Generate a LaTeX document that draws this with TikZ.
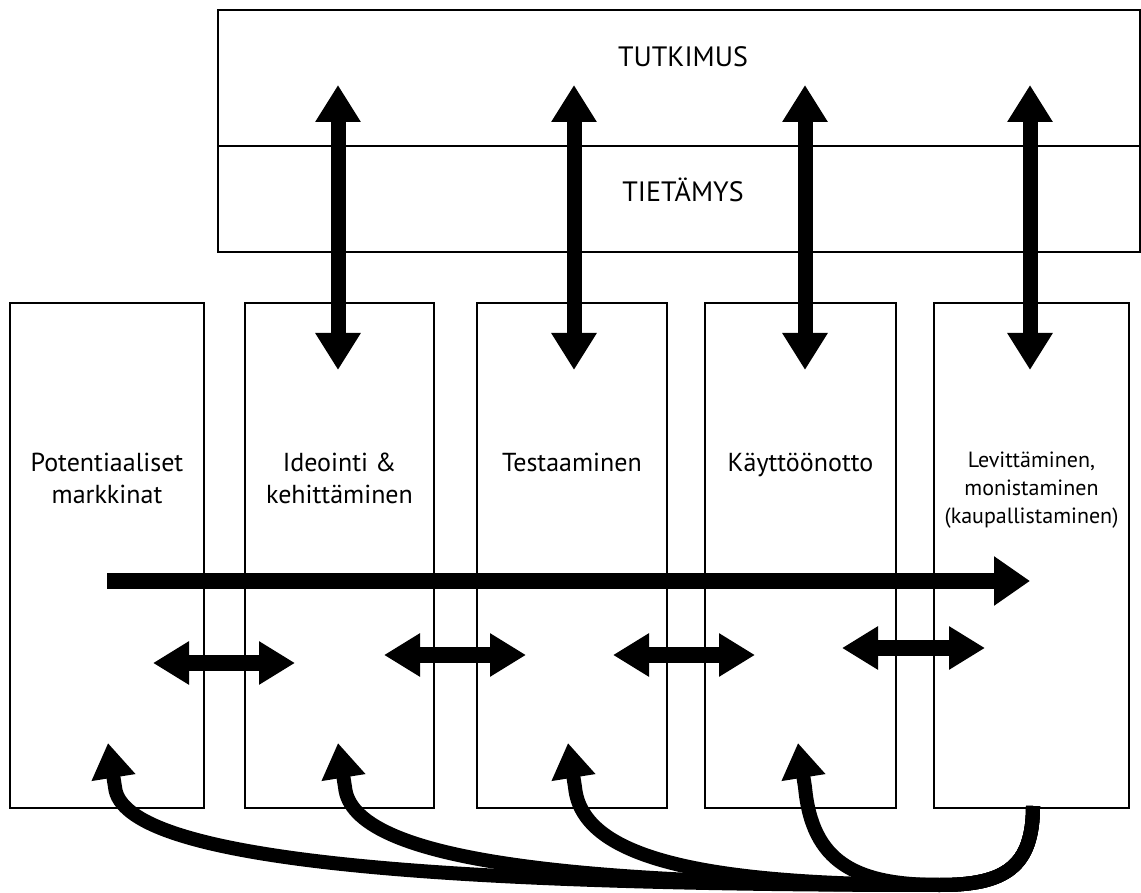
\documentclass[tikz,border=0pt]{standalone}
\usepackage{fontspec}
\setmainfont{PT Sans}
\usetikzlibrary{arrows.meta}

\begin{document}
\begin{tikzpicture}[x=1pt,y=1pt,
  panel/.style={draw, line width=2.6pt, minimum width=922pt, inner sep=0pt},
  stage/.style={draw, line width=2pt, minimum height=505pt, inner sep=0pt},
  stagetext/.style={anchor=north, align=center, inner sep=0pt, font=\fontsize{26}{32}\selectfont},
  bigtext/.style={inner sep=0pt, font=\fontsize{28}{32}\selectfont},
  twoway/.style={line width=15pt, {Triangle[length=37pt,width=43pt]}-{Triangle[length=37pt,width=43pt]}},
  oneway/.style={line width=16pt, -{Triangle[length=36pt,width=47pt]}},
  backflow/.style={line width=14pt, -{Triangle[length=35pt,width=42pt]}}]
\useasboundingbox (0,0) rectangle (1141,892);
% research and knowledge
\node[panel, minimum height=136pt] (tutk) at (679,814) {};
\node[panel, minimum height=106pt] (tiet) at (679,693) {};
\node[bigtext] (tutklabel) at (683,835) {TUTKIMUS};
\node[bigtext] (tietlabel) at (683,702) {TIETÄMYS};
% stages
\node[stage, minimum width=194pt] (mark) at (107,336.5) {};
\node[stage, minimum width=189pt] (ideo) at (339.5,336.5) {};
\node[stage, minimum width=190pt] (test) at (572,336.5) {};
\node[stage, minimum width=191pt] (kayt) at (800.5,336.5) {};
\node[stage, minimum width=195pt] (levi) at (1031.5,336.5) {};
\node[stagetext] (marklabel) at (mark.center |- 0,439) {Potentiaaliset\\markkinat};
\node[stagetext] (ideolabel) at (ideo.center |- 0,439) {Ideointi \&\\kehittäminen};
\node[stagetext] (testlabel) at (test.center |- 0,439) {Testaaminen};
\node[stagetext] (kaytlabel) at (kayt.center |- 0,439) {Käyttöönotto};
\node[stagetext, font=\fontsize{22}{28}\selectfont] (levilabel) at (levi.center |- 0,440) {Levittäminen,\\monistaminen\\(kaupallistaminen)};
% links to research
\foreach \i/\x in {1/338,2/574,3/805,4/1030}{
  \coordinate (up\i) at (\x,807);
  \coordinate (down\i) at (\x,522);
  \draw[twoway] (up\i) -- (down\i);
}
% main flow
\coordinate (flowstart) at (107,311);
\coordinate (flowend) at (1030,311);
\draw[oneway] (flowstart) -- (flowend);
% between stages
\foreach \i/\xa/\xb/\y in {1/153/295/229,2/384/526/237,3/613/755/237,4/842/985/244}{
  \coordinate (sl\i) at (\xa,\y);
  \coordinate (sr\i) at (\xb,\y);
  \draw[twoway, line width=16pt, {Triangle[length=36pt,width=41pt]}-{Triangle[length=36pt,width=41pt]}] (sl\i) -- (sr\i);
}
% feedback
\coordinate (ret) at (1033,86);
\foreach \i/\x in {1/108,2/338,3/568,4/798}{
  \coordinate (back\i) at (\x,149);
  \draw[backflow] (ret) .. controls (1033,25) and (1005,7) .. (940,7)
    .. controls ({\x+0.4*(940-\x)},7) and ({\x+14},30) .. ({\x+7},105) -- (back\i);
}
\end{tikzpicture}
\end{document}
